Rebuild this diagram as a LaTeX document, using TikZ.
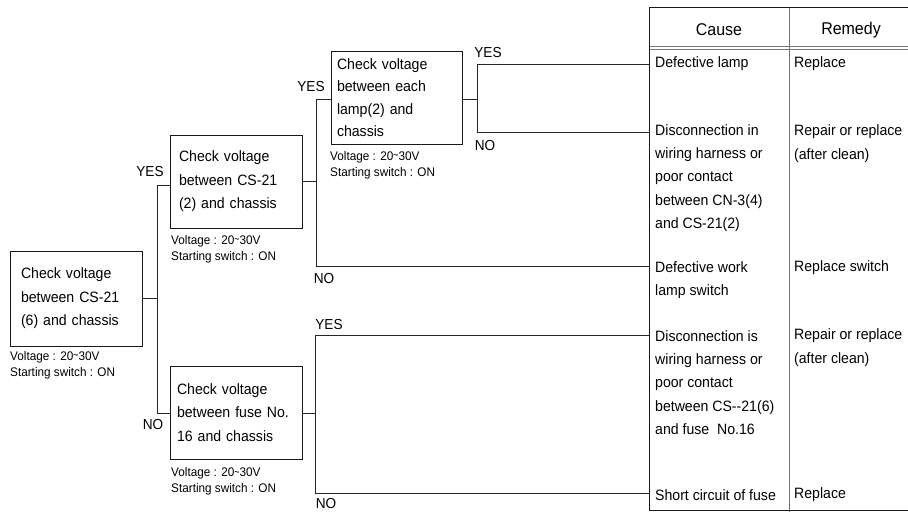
\documentclass[tikz,border=0pt]{standalone}
\usepackage{fontspec}
\setmainfont{Liberation Sans}[FakeStretch=0.94]
\newcommand{\tld}{\raisebox{0.1ex}{\scalebox{0.75}[1]{\textasciitilde}}}
\begin{document}
\begin{tikzpicture}[x=1pt,y=-1pt,
  line/.style={draw=black!85, line width=0.9pt},
  box/.style={draw=black!90, line width=0.9pt, align=left, inner ysep=0pt,
    font=\fontsize{15}{23.5}\selectfont},
  note/.style={anchor=west, inner sep=0pt, align=left,
    font=\fontsize{12.5}{16}\selectfont},
  lab/.style={inner sep=0pt, font=\fontsize{14.5}{16}\selectfont},
  cell/.style={anchor=west, inner sep=0pt, align=left,
    font=\fontsize{15}{23.3}\selectfont},
  head/.style={inner sep=0pt, font=\fontsize{17}{18}\selectfont},
  rule/.style={draw=black!55, line width=0.9pt}
]
\useasboundingbox (0,0) rectangle (908,512);

% check boxes
\node[box, inner xsep=11pt, text width=110pt, minimum height=95pt] (b1) at (76,298.5)
  {Check voltage\\between CS-21\\(6) and chassis};
\node[box, inner xsep=9pt, text width=114pt, minimum height=93pt] (b2) at (236,181.5)
  {Check voltage\\between CS-21\\(2) and chassis};
\node[box, inner xsep=6pt, text width=119pt, minimum height=93pt,
  font=\fontsize{15}{22.5}\selectfont] (b3) at (396.5,97.5)
  {Check voltage\\between each\\lamp(2) and\\chassis};
\node[box, inner xsep=7pt, text width=118pt, minimum height=93pt] (b4) at (236,412.5)
  {Check voltage\\between fuse No.\\16 and chassis};

% notes
\node[note] (n1) at (10,365) {Voltage : 20\tld30V\\Starting switch : ON};
\node[note] (n2) at (171,249) {Voltage : 20\tld30V\\Starting switch : ON};
\node[note] (n3) at (330,165) {Voltage : 20\tld30V\\Starting switch : ON};
\node[note] (n4) at (171,481.5) {Voltage : 20\tld30V\\Starting switch : ON};

% table
\draw[rule] (789,7) -- (789,512);
\draw[rule] (649,46.5) -- (920,46.5);
\draw[rule] (649,49.5) -- (920,49.5);
\draw[draw=black!90, line width=0.9pt] (649,7) rectangle (925,510);
\node[head] (hc) at (719,30) {Cause};
\node[head] (hr) at (851,30) {Remedy};

\node[cell] (c1) at (655,64) {Defective lamp};
\node[cell] (c2) at (655,178) {Disconnection in\\wiring harness or\\poor contact\\between CN-3(4)\\and CS-21(2)};
\node[cell] (c3) at (655,280) {Defective work\\lamp switch};
\node[cell] (c4) at (655,382.5) {Disconnection is\\wiring harness or\\poor contact\\between CS-{}-21(6)\\and fuse\ \ No.16};
\node[cell] (c5) at (655,495) {Short circuit of fuse};

\node[cell] (r1) at (794,64) {Replace};
\node[cell] (r2) at (794,143.5) {Repair or replace\\(after clean)};
\node[cell] (r3) at (794,268) {Replace switch};
\node[cell] (r4) at (794,347.5) {Repair or replace\\(after clean)};
\node[cell] (r5) at (794,495) {Replace};

% junction coordinates
\coordinate (j1) at (157,298.5);
\coordinate (j1y) at (157,185);
\coordinate (j1n) at (157,413);
\coordinate (j2) at (316,181.5);
\coordinate (j2y) at (316,99);
\coordinate (j2n) at (316,266);
\coordinate (j3) at (477,99);
\coordinate (j3y) at (477,64);
\coordinate (j3n) at (477,132);
\coordinate (j4) at (315,413);
\coordinate (j4y) at (315,335);
\coordinate (j4n) at (315,493);
\coordinate (tl) at (649,0);

% connectors
\draw[line] (b1.east) -- (j1);
\draw[line] (b2.west |- j1y) -- (j1y) -- (j1n) -- (b4.west |- j1n);
\draw[line] (b2.east) -- (j2);
\draw[line] (b3.west |- j2y) -- (j2y) -- (j2n) -- (tl |- j2n);
\draw[line] (b3.east |- j3) -- (j3);
\draw[line] (tl |- j3y) -- (j3y) -- (j3n) -- (tl |- j3n);
\draw[line] (b4.east |- j4) -- (j4);
\draw[line] (tl |- j4y) -- (j4y) -- (j4n) -- (tl |- j4n);

% labels
\node[lab] (y1) at (150,172) {YES};
\node[lab] (no1) at (153,425) {NO};
\node[lab] (y2) at (311,87) {YES};
\node[lab] (no2) at (324,279) {NO};
\node[lab] (y3) at (488,53) {YES};
\node[lab] (no3) at (485,146) {NO};
\node[lab] (y4) at (329,325) {YES};
\node[lab] (no4) at (326,504) {NO};
\end{tikzpicture}
\end{document}
